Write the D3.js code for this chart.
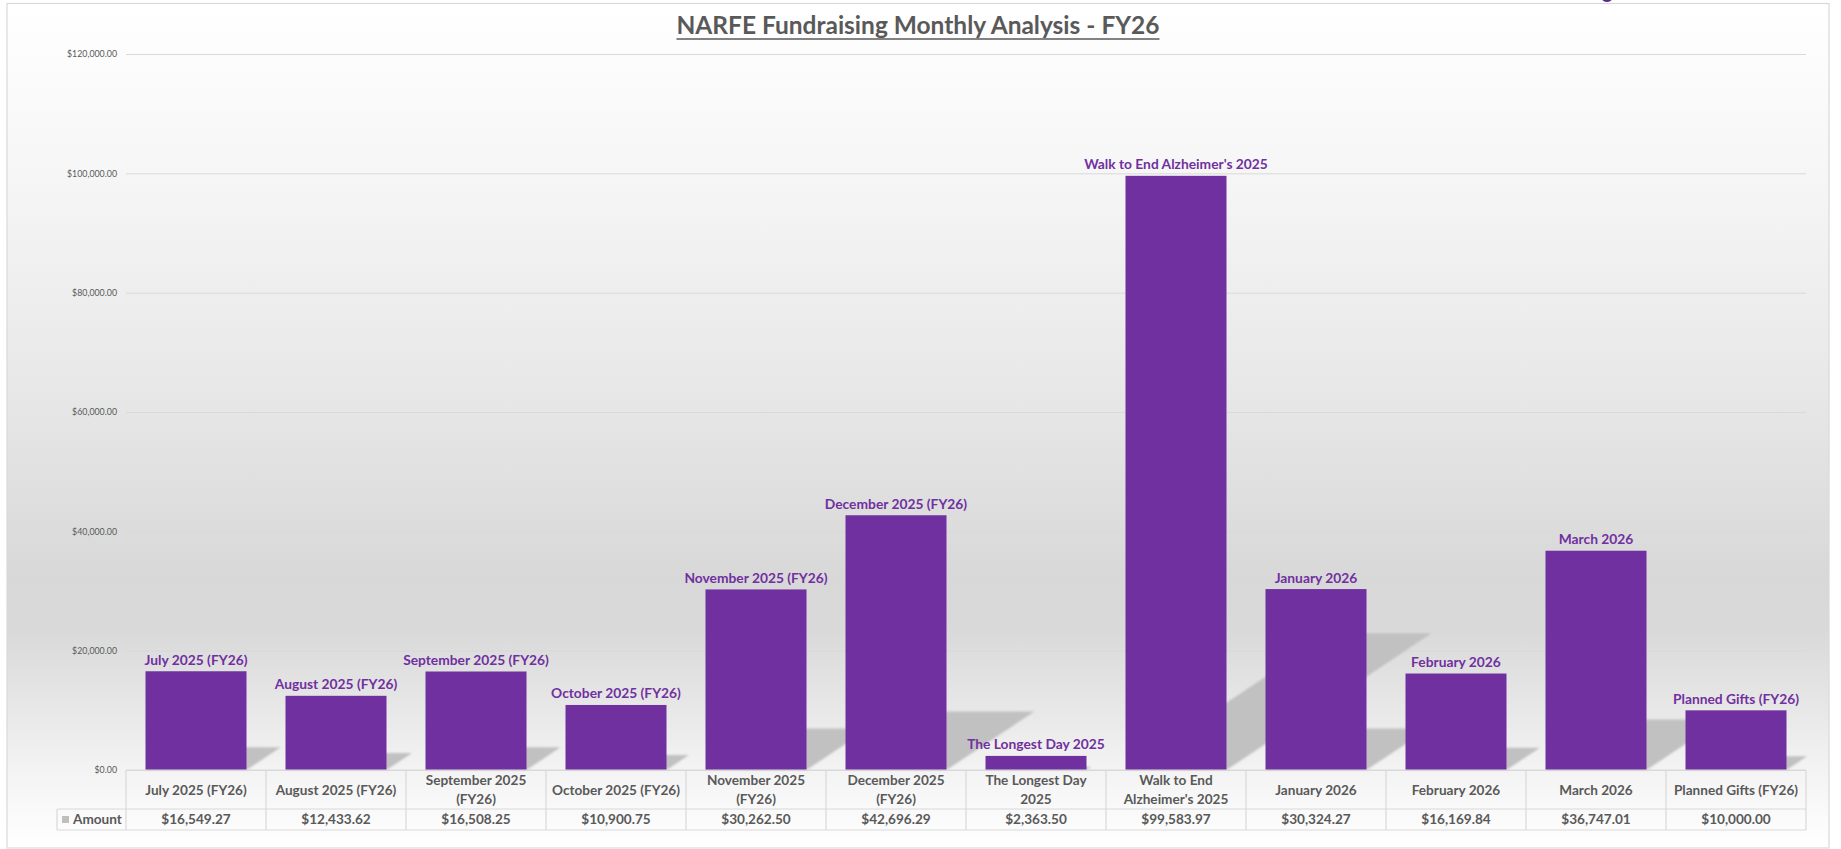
<!DOCTYPE html>
<html>
<head>
<meta charset="utf-8">
<script src="https://cdn.jsdelivr.net/npm/d3@7/dist/d3.min.js"></script>
<style>
  html, body { margin: 0; padding: 0; background: #ffffff; }
  svg { display: block; font-family: Lato, "Noto Sans", sans-serif; }
</style>
</head>
<body>
<svg id="chart" width="1841" height="849"></svg>
<script>
// ---------- DATA ----------
const title = "NARFE Fundraising Monthly Analysis - FY26";
const seriesName = "Amount";
const categories = [
  "July 2025 (FY26)", "August 2025 (FY26)", "September 2025 (FY26)", "October 2025 (FY26)",
  "November 2025 (FY26)", "December 2025 (FY26)", "The Longest Day 2025", "Walk to End Alzheimer's 2025",
  "January 2026", "February 2026", "March 2026", "Planned Gifts (FY26)"
];
const amounts = [
  16549.27, 12433.62, 16508.25, 10900.75,
  30262.50, 42696.29, 2363.50, 99583.97,
  30324.27, 16169.84, 36747.01, 10000.00
];
// table header labels as they wrap in the data table
const headerLines = [
  ["July 2025 (FY26)"], ["August 2025 (FY26)"], ["September 2025", "(FY26)"], ["October 2025 (FY26)"],
  ["November 2025", "(FY26)"], ["December 2025", "(FY26)"], ["The Longest Day", "2025"], ["Walk to End", "Alzheimer's 2025"],
  ["January 2026"], ["February 2026"], ["March 2026"], ["Planned Gifts (FY26)"]
];
const yTicks = [0, 20000, 40000, 60000, 80000, 100000, 120000];

// ---------- LAYOUT ----------
const W = 1841, H = 849;
const plotL = 126, plotR = 1806, plotT = 54, plotB = 770;
const headRowB = 809, valRowB = 830, amountL = 57;
const barColor = "#7030a0", textGray = "#595959", gridColor = "#d9d9d9";

const svg = d3.select("#chart");
const defs = svg.append("defs");

const bg = defs.append("linearGradient").attr("id", "bgGrad")
  .attr("x1", 0).attr("y1", 0).attr("x2", 0).attr("y2", 1);
[[0, "#ffffff"], [0.2, "#f6f6f6"], [0.45, "#e8e8e8"], [0.68, "#d8d8d8"], [0.74, "#d9d9d9"],
 [0.84, "#e8e8e8"], [0.905, "#f3f3f3"], [1, "#ffffff"]]
  .forEach(([o, c]) => bg.append("stop").attr("offset", o).attr("stop-color", c));

defs.append("filter").attr("id", "soft").attr("x", "-10%").attr("y", "-10%").attr("width", "120%").attr("height", "120%")
  .append("feGaussianBlur").attr("stdDeviation", 1.1);

// chart area
svg.append("rect").attr("x", 7).attr("y", 3.5).attr("width", 1822).attr("height", 844.5)
  .attr("fill", "url(#bgGrad)").attr("stroke", "#d9d9d9").attr("stroke-width", 1.2);

// tiny purple element peeking at the top
svg.append("ellipse").attr("cx", 1607).attr("cy", -1.5).attr("rx", 5).attr("ry", 3.5).attr("fill", "#5b2a86");

// title
const titleW = 483;
svg.append("text").attr("x", 918).attr("y", 33.5).attr("text-anchor", "middle")
  .attr("font-size", 24).attr("font-weight", 700).attr("fill", textGray)
  .attr("textLength", titleW).attr("lengthAdjust", "spacingAndGlyphs").text(title);
svg.append("line").attr("x1", 918 - titleW / 2).attr("x2", 918 + titleW / 2).attr("y1", 39).attr("y2", 39)
  .attr("stroke", textGray).attr("stroke-width", 1.7);

// scales
const x = d3.scaleBand().domain(categories).range([plotL, plotR]).paddingInner(0.2786).paddingOuter(0.1393);
const y = d3.scaleLinear().domain([0, 120000]).range([plotB, plotT]);
const fmt = d3.format("$,.2f");

// y axis with gridlines
const yAxis = svg.append("g").attr("transform", `translate(${plotL},0)`)
  .call(d3.axisLeft(y).tickValues(yTicks).tickSize(-(plotR - plotL)).tickPadding(9).tickFormat(fmt));
yAxis.select(".domain").remove();
yAxis.selectAll(".tick line").attr("stroke", gridColor).attr("stroke-width", 1);
yAxis.selectAll(".tick text").attr("fill", textGray).attr("font-size", 8.8)
  .attr("font-family", "Lato, sans-serif");

// shadows (perspective, diagonal upper right)
const ka = 0.345, kb = 0.23;
svg.append("g").attr("filter", "url(#soft)").selectAll("polygon").data(categories).join("polygon")
  .attr("points", (d, i) => {
    const x0 = x(d), x1 = x(d) + x.bandwidth(), h = y(0) - y(amounts[i]);
    return [[x0, plotB], [x1, plotB], [x1 + h * ka, plotB - h * kb], [x0 + h * ka, plotB - h * kb]]
      .map(p => p.join(",")).join(" ");
  })
  .attr("fill", "#c1c1c1");

// bars
svg.append("g").selectAll("rect").data(categories).join("rect")
  .attr("x", d => x(d)).attr("width", x.bandwidth())
  .attr("y", (d, i) => y(amounts[i])).attr("height", (d, i) => y(0) - y(amounts[i]))
  .attr("fill", barColor);

// data labels (category names)
svg.append("g").selectAll("text").data(categories).join("text")
  .attr("x", d => x(d) + x.bandwidth() / 2).attr("y", (d, i) => y(amounts[i]) - 6.5)
  .attr("text-anchor", "middle").attr("font-size", 13.8).attr("font-weight", 700)
  .attr("fill", barColor).text(d => d);

// data table
const tbl = svg.append("g").attr("stroke", gridColor).attr("stroke-width", 1.2);
tbl.append("line").attr("x1", plotL).attr("x2", plotR).attr("y1", plotB).attr("y2", plotB);
tbl.append("line").attr("x1", amountL).attr("x2", plotR).attr("y1", headRowB).attr("y2", headRowB);
tbl.append("line").attr("x1", amountL).attr("x2", plotR).attr("y1", valRowB).attr("y2", valRowB);
tbl.append("line").attr("x1", amountL).attr("x2", amountL).attr("y1", headRowB).attr("y2", valRowB);
const step = x.step();
d3.range(categories.length + 1).forEach(i => {
  const xx = plotL + i * step;
  tbl.append("line").attr("x1", xx).attr("x2", xx).attr("y1", plotB).attr("y2", valRowB);
});

// header labels
const hdr = svg.append("g").attr("font-size", 13.6).attr("font-weight", 700).attr("fill", textGray)
  .attr("text-anchor", "middle");
categories.forEach((c, i) => {
  const cx = x(c) + x.bandwidth() / 2;
  const lines = headerLines[i];
  const t = hdr.append("text").attr("x", cx);
  const cyMid = (plotB + headRowB) / 2 + 0.5;
  lines.forEach((ln, k) => {
    const yy = cyMid + (k - (lines.length - 1) / 2) * 19;
    t.append("tspan").attr("x", cx).attr("y", yy).attr("dy", "0.36em").text(ln);
  });
});

// value row
svg.append("g").selectAll("text").data(categories).join("text")
  .attr("x", d => x(d) + x.bandwidth() / 2).attr("y", (headRowB + valRowB) / 2).attr("dy", "0.36em")
  .attr("text-anchor", "middle").attr("font-size", 13.6).attr("font-weight", 700).attr("fill", textGray)
  .text((d, i) => fmt(amounts[i]));

// legend key + series name
svg.append("rect").attr("x", 62).attr("y", 816).attr("width", 7).attr("height", 7).attr("fill", "#bfbfbf");
svg.append("text").attr("x", 73).attr("y", (headRowB + valRowB) / 2).attr("dy", "0.36em")
  .attr("font-size", 13.6).attr("font-weight", 700).attr("fill", textGray).text(seriesName);
</script>
</body>
</html>
